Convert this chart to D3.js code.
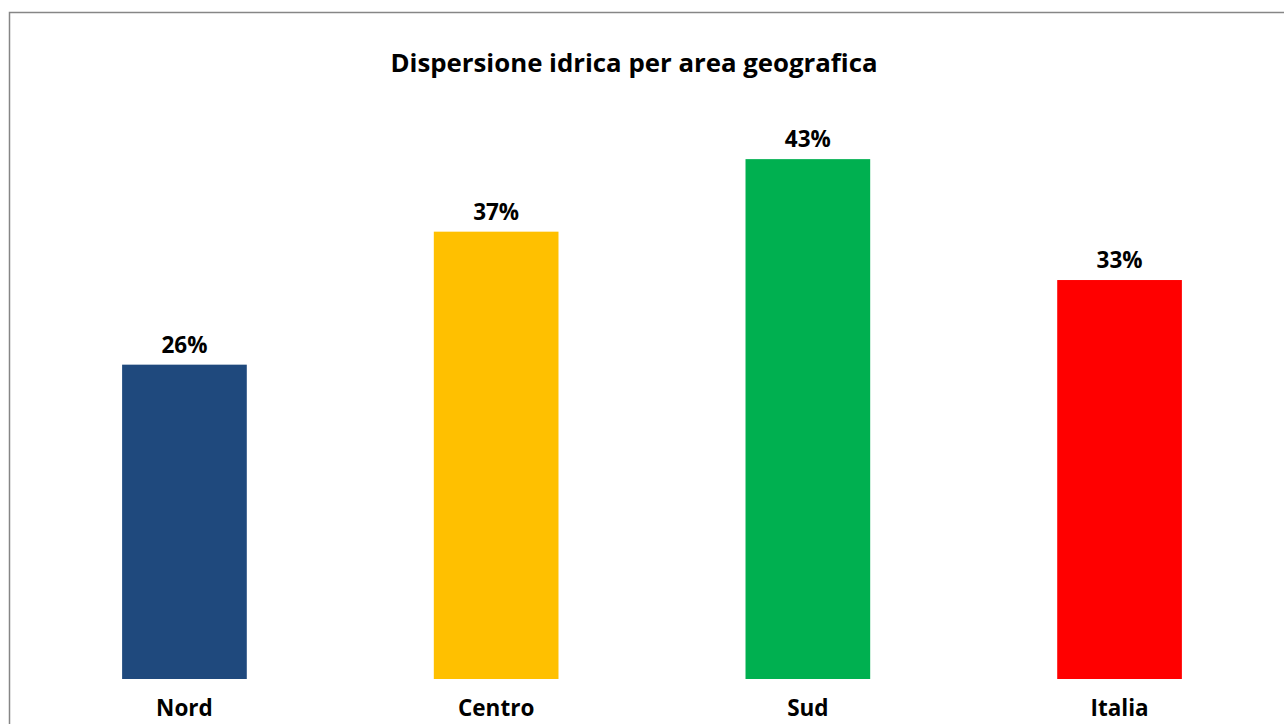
<!DOCTYPE html>
<html>
<head>
    <meta charset="utf-8">
    <title>Dispersione idrica per area geografica</title>
    <script src="https://d3js.org/d3.v7.min.js"></script>
    <style>
        html, body { margin: 0; padding: 0; background: #fff; }
        .title { font-family: "Open Sans", sans-serif; font-weight: 700; font-size: 25.8px; }
        .value-label { font-family: "Open Sans", sans-serif; font-weight: 700; font-size: 22.5px; }
    </style>
</head>
<body>
    <div id="chart"></div>
    <script>
        // dati
        const categories = ["Nord", "Centro", "Sud", "Italia"];
        const values = [26, 37, 43, 33];
        const barColors = ["#1F497D", "#FFC000", "#00B050", "#FF0000"];

        const width = 1284, height = 724;

        const svg = d3.select("#chart").append("svg")
            .attr("width", width)
            .attr("height", height);

        // cornice del grafico (esce a destra e in basso)
        svg.append("rect")
            .attr("x", 9.5).attr("y", 12.5)
            .attr("width", 1400).attr("height", 800)
            .attr("fill", "#fff")
            .attr("stroke", "#868686")
            .attr("stroke-width", 1.5);

        svg.append("text")
            .attr("class", "title")
            .attr("x", 634).attr("y", 72)
            .attr("text-anchor", "middle")
            .text("Dispersione idrica per area geografica");

        const x = d3.scaleBand()
            .domain(categories)
            .range([28.6, 1275.4])
            .paddingInner(0.6)
            .paddingOuter(0.3);

        const y = d3.scaleLinear()
            .domain([0, 50])
            .range([679, 74.5]);

        const data = categories.map((c, i) => ({ cat: c, val: values[i], color: barColors[i] }));

        svg.selectAll(".bar")
            .data(data)
            .enter()
            .append("rect")
            .attr("class", "bar")
            .attr("x", d => x(d.cat))
            .attr("y", d => y(d.val))
            .attr("width", x.bandwidth())
            .attr("height", d => y(0) - y(d.val))
            .attr("fill", d => d.color);

        // etichette valori
        svg.selectAll(".value-label")
            .data(data)
            .enter()
            .append("text")
            .attr("class", "value-label")
            .attr("x", d => x(d.cat) + x.bandwidth() / 2)
            .attr("y", d => y(d.val) - 12)
            .attr("text-anchor", "middle")
            .text(d => d.val + "%");

        // asse x senza linea
        const xAxis = svg.append("g")
            .attr("transform", `translate(0,${y(0)})`)
            .call(d3.axisBottom(x).tickSize(0).tickPadding(0));
        xAxis.select(".domain").remove();
        xAxis.selectAll("text")
            .attr("dy", null)
            .attr("y", 37)
            .attr("fill", "#000")
            .style("font-family", "'Open Sans', sans-serif")
            .style("font-size", "22.5px")
            .style("font-weight", "700");
    </script>
</body>
</html>
